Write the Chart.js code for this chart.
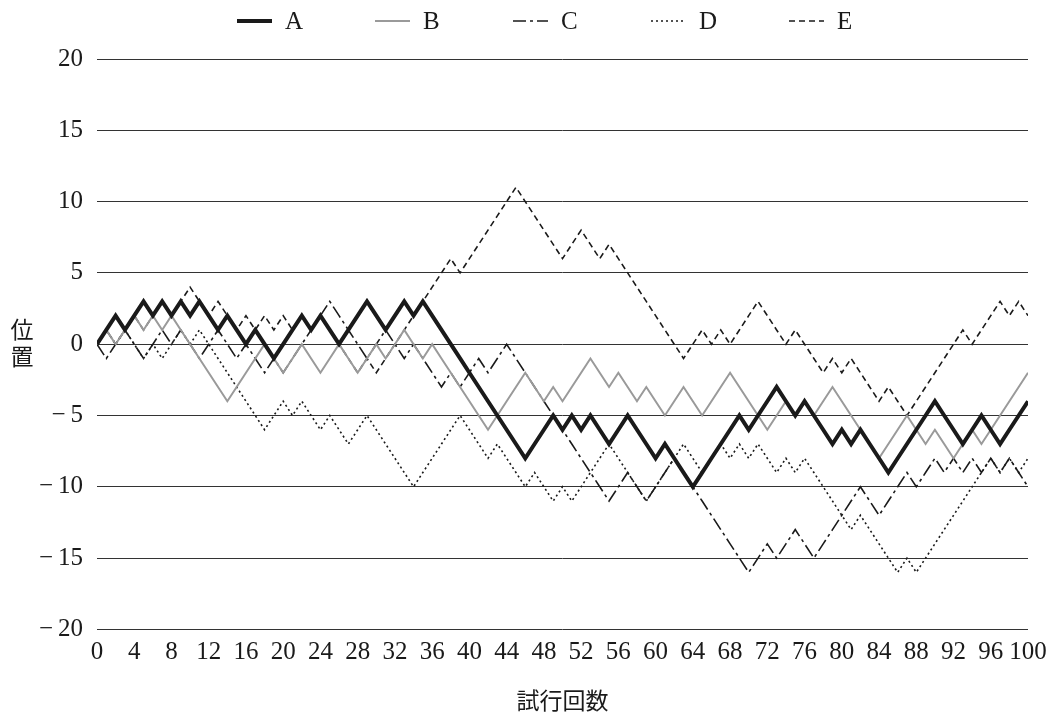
<!DOCTYPE html>
<html>
<head>
<meta charset="utf-8">
<script src="https://cdn.jsdelivr.net/npm/chart.js@4.4.1/dist/chart.umd.min.js"></script>
<style>
  html, body { margin: 0; padding: 0; background: #fff; }
</style>
</head>
<body>
<canvas id="walkChart" width="1054" height="716"></canvas>
<script>
// trial numbers 0..100 (x axis)
const trials = Array.from({ length: 101 }, (_, i) => i);
const seriesNames = ['A', 'B', 'C', 'D', 'E'];

// positions, one value per trial
const walkA = [0,1,2,1,2,3,2,3,2,3,2,3,2,1,2,1,0,1,0,-1,0,1,2,1,2,1,0,1,2,3,2,1,2,3,2,3,
  2,1,0,-1,-2,-3,-4,-5,-6,-7,-8,
  -7,-6,-5,-6,-5,-6,-5,-6,-7,-6,-5,-6,-7,-8,-7,-8,-9,-10,
  -9,-8,-7,-6,-5,-6,-5,-4,-3,-4,-5,-4,-5,-6,-7,-6,-7,-6,-7,-8,-9,
  -8,-7,-6,-5,-4,-5,-6,-7,-6,-5,-6,-7,-6,-5,-4];
const walkB = [0,1,0,1,2,1,2,1,2, 1,0,-1,-2,-3,-4, -3,-2,-1,0,
  -1,-2,-1,0,-1,-2,-1,0,-1,-2, -1,0,-1,0,1, 0,-1,0,
  -1,-2,-3,-4,-5,-6, -5,-4,-3,-2, -3,-4,-3,-4,-3,-2,-1,-2,-3,-2,
  -3,-4,-3,-4,-5,-4,-3,-4,-5,-4,-3,-2,-3,-4,-5,-6,-5,-4,
  -5,-4,-5,-4,-3, -4,-5,-6,-7,-8, -7,-6,-5, -6,-7,-6,-7,-8,
  -7,-6,-7,-6,-5,-4,-3,-2];
const walkC = [0,-1,0,1,0,-1,0,1,0,1,0, -1,0,1,0,-1,0,-1,-2,-1,-2,
  -1,0,1,2,3, 2,1,0,-1, 0,1,0,-1,0, -1,-2,-3,
  -2,-3,-2,-1,-2,-1,0, -1,-2,-3,-4,-5,-6,-7,-8,-9,-10,-11,
  -10,-9,-10,-11, -10,-9,-8,-9,-10, -11,-12,-13,-14,-15,-16,
  -15,-14,-15,-14,-13, -14,-15, -14,-13,-12,-11,-10, -11,-12,
  -11,-10,-9, -10, -9,-8, -9, -8,-9,-8,-9,-8,-9,-8,-9,-10];
const walkD = [0,1,0,1,0,-1,0,-1,0,1,0,1, 0,-1,-2,-3,-4,-5,-6,
  -5,-4,-5,-4,-5,-6,-5,-6,-7,-6,-5, -6,-7,-8,-9,-10, -9,-8,-7,-6,-5,
  -6,-7,-8, -7, -8,-9,-10, -9,-10,-11,-10,-11, -10,-9,-8,-7,
  -8,-9,-10,-11, -10,-9,-8,-7, -8,-9,-8,-7,-8,-7,-8,-7,-8,-9,-8,
  -9,-8,-9,-10,-11,-12,-13,-12,-13,-14,-15,-16, -15, -16,
  -15,-14,-13,-12,-11,-10,-9,-8, -9,-8,-9,-8];
const walkE = [0,1,0,1,2,1,2,3,2,3,4,3,2,3,2,1,2,1,2,1,2,1,2,1,2,1,0,-1,-2,-1,-2,
  -1,0,1,2,3,4,5,6, 5, 6,7,8,9,10,11, 10,9,8,7,6, 7,8,7,6,7,
  6,5,4,3,2,1,0,-1, 0,1,0,1,0,1,2,3,2,1,0,1,
  0,-1,-2,-1,-2,-1,-2,-3,-4,-3,-4,-5, -4,-3,-2,-1,0,1,
  0,1,2,3,2,3,2];

const xTicks = [0, 4, 8, 12, 16, 20, 24, 28, 32, 36, 40, 44, 48, 52, 56, 60, 64, 68, 72, 76, 80, 84, 88, 92, 96, 100];
const yTicks = [-20, -15, -10, -5, 0, 5, 10, 15, 20];

const serif = "'Liberation Serif', 'DejaVu Serif', serif";
const cjk = "'Noto Sans CJK JP', sans-serif";

function toPoints(values) {
    return values.map((v, i) => ({ x: trials[i], y: v }));
}

const lineStyles = [
    { color: '#1a1a1a', width: 4, dash: [] },
    { color: '#9a9a9a', width: 2, dash: [] },
    { color: '#1a1a1a', width: 1.6, dash: [13, 4, 3, 4] },
    { color: '#1a1a1a', width: 1.6, dash: [2, 3] },
    { color: '#1a1a1a', width: 1.6, dash: [6, 4] }
];

const walks = [walkA, walkB, walkC, walkD, walkE];

// legend drawn by hand so the spacing matches
const lineLegend = {
    id: 'lineLegend',
    afterDraw(chart) {
        const ctx = chart.ctx;
        ctx.save();
        chart.data.datasets.forEach((ds, i) => {
            const x0 = 237 + i * 138;
            const y = 21;
            ctx.strokeStyle = ds.borderColor;
            ctx.lineWidth = ds.borderWidth;
            ctx.setLineDash(ds.borderDash || []);
            ctx.beginPath();
            ctx.moveTo(x0, y);
            ctx.lineTo(x0 + 35, y);
            ctx.stroke();
            ctx.setLineDash([]);
            ctx.fillStyle = '#1a1a1a';
            ctx.font = '25px ' + serif;
            ctx.textAlign = 'left';
            ctx.textBaseline = 'middle';
            ctx.fillText(ds.label, x0 + 48, y + 1);
        });
        ctx.restore();
    }
};

// vertical y axis title
const yTitle = {
    id: 'yTitle',
    afterDraw(chart) {
        const ctx = chart.ctx;
        ctx.save();
        ctx.fillStyle = '#1a1a1a';
        ctx.font = '23px ' + cjk;
        ctx.textAlign = 'center';
        ctx.textBaseline = 'middle';
        ctx.fillText('位', 22, 329);
        ctx.fillText('置', 22, 356);
        ctx.restore();
    }
};

const ctx = document.getElementById('walkChart').getContext('2d');
const walkChart = new Chart(ctx, {
    type: 'line',
    data: {
        datasets: walks.map((w, i) => ({
            label: seriesNames[i],
            data: toPoints(w),
            borderColor: lineStyles[i].color,
            borderWidth: lineStyles[i].width,
            borderDash: lineStyles[i].dash,
            pointRadius: 0,
            tension: 0,
            fill: false
        }))
    },
    options: {
        responsive: false,
        animation: false,
        layout: { padding: { top: 59, right: 26, left: 0, bottom: 0 } },
        plugins: {
            legend: { display: false },
            tooltip: { enabled: false }
        },
        scales: {
            x: {
                type: 'linear',
                min: 0,
                max: 100,
                afterBuildTicks(scale) {
                    scale.ticks = xTicks.map(v => ({ value: v }));
                },
                grid: { display: false },
                border: { display: false },
                ticks: {
                    color: '#1a1a1a',
                    font: { family: serif, size: 25 },
                    padding: 0,
                    maxRotation: 0,
                    autoSkip: false
                },
                title: {
                    display: true,
                    text: '試行回数',
                    color: '#1a1a1a',
                    font: { family: cjk, size: 23 },
                    padding: { top: 19, bottom: 2 }
                }
            },
            y: {
                min: -20,
                max: 20,
                afterBuildTicks(scale) {
                    scale.ticks = yTicks.map(v => ({ value: v }));
                },
                afterFit(scale) {
                    scale.width = 97;
                },
                grid: { color: '#333', lineWidth: 1, drawTicks: false },
                border: { display: false },
                ticks: {
                    color: '#1a1a1a',
                    font: { family: serif, size: 25 },
                    padding: 14,
                    callback: v => v < 0 ? '\u2212\u2009' + Math.abs(v) : String(v)
                }
            }
        }
    },
    plugins: [lineLegend, yTitle]
});
</script>
</body>
</html>
